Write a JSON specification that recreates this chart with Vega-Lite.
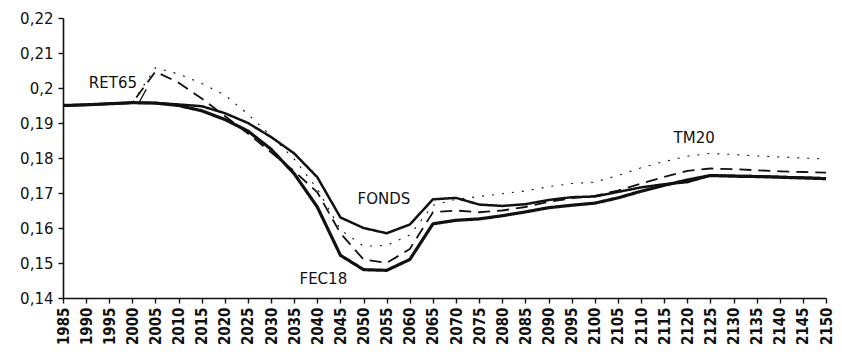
{
  "$schema": "https://vega.github.io/schema/vega-lite/v6.json",
  "autosize": "none",
  "width": 763,
  "height": 280,
  "padding": {"left": 63, "top": 18, "right": 16, "bottom": 58},
  "background": "white",
  "config": {
    "view": {"stroke": null},
    "font": "DejaVu Sans",
    "axis": {"grid": false, "domainColor": "#111", "tickColor": "#111", "labelColor": "#111", "domainWidth": 1.6, "tickWidth": 1.4, "labelOverlap": false, "labelFlush": false, "labelBound": false, "tickSize": 5}
  },
  "datasets": {
    "series": [
      {"year": 1985, "FEC18": 0.1950, "FONDS": 0.1950, "RET65": 0.1950, "TM20": 0.1950},
      {"year": 1990, "FEC18": 0.1952, "FONDS": 0.1952, "RET65": 0.1952, "TM20": 0.1952},
      {"year": 1995, "FEC18": 0.1955, "FONDS": 0.1955, "RET65": 0.1955, "TM20": 0.1955},
      {"year": 2000, "FEC18": 0.1958, "FONDS": 0.1958, "RET65": 0.1958, "TM20": 0.1958},
      {"year": 2005, "FEC18": 0.1957, "FONDS": 0.1957, "RET65": 0.2047, "TM20": 0.2058},
      {"year": 2010, "FEC18": 0.1950, "FONDS": 0.1953, "RET65": 0.2015, "TM20": 0.2040},
      {"year": 2015, "FEC18": 0.1935, "FONDS": 0.1948, "RET65": 0.1970, "TM20": 0.2013},
      {"year": 2020, "FEC18": 0.1910, "FONDS": 0.1928, "RET65": 0.1920, "TM20": 0.1980},
      {"year": 2025, "FEC18": 0.1877, "FONDS": 0.1900, "RET65": 0.1870, "TM20": 0.1925},
      {"year": 2030, "FEC18": 0.1825, "FONDS": 0.1860, "RET65": 0.1816, "TM20": 0.1863},
      {"year": 2035, "FEC18": 0.1755, "FONDS": 0.1813, "RET65": 0.1762, "TM20": 0.1797},
      {"year": 2040, "FEC18": 0.1660, "FONDS": 0.1745, "RET65": 0.1702, "TM20": 0.1712},
      {"year": 2045, "FEC18": 0.1522, "FONDS": 0.1630, "RET65": 0.1585, "TM20": 0.1595},
      {"year": 2050, "FEC18": 0.1481, "FONDS": 0.1600, "RET65": 0.1510, "TM20": 0.1548},
      {"year": 2055, "FEC18": 0.1479, "FONDS": 0.1585, "RET65": 0.1500, "TM20": 0.1550},
      {"year": 2060, "FEC18": 0.1510, "FONDS": 0.1610, "RET65": 0.1540, "TM20": 0.1580},
      {"year": 2065, "FEC18": 0.1612, "FONDS": 0.1682, "RET65": 0.1645, "TM20": 0.1665},
      {"year": 2070, "FEC18": 0.1622, "FONDS": 0.1686, "RET65": 0.1650, "TM20": 0.1682},
      {"year": 2075, "FEC18": 0.1626, "FONDS": 0.1667, "RET65": 0.1645, "TM20": 0.1690},
      {"year": 2080, "FEC18": 0.1635, "FONDS": 0.1663, "RET65": 0.1650, "TM20": 0.1698},
      {"year": 2085, "FEC18": 0.1646, "FONDS": 0.1668, "RET65": 0.1660, "TM20": 0.1706},
      {"year": 2090, "FEC18": 0.1658, "FONDS": 0.1680, "RET65": 0.1675, "TM20": 0.1718},
      {"year": 2095, "FEC18": 0.1665, "FONDS": 0.1688, "RET65": 0.1685, "TM20": 0.1727},
      {"year": 2100, "FEC18": 0.1671, "FONDS": 0.1690, "RET65": 0.1692, "TM20": 0.1731},
      {"year": 2105, "FEC18": 0.1686, "FONDS": 0.1703, "RET65": 0.1707, "TM20": 0.1750},
      {"year": 2110, "FEC18": 0.1705, "FONDS": 0.1716, "RET65": 0.1727, "TM20": 0.1772},
      {"year": 2115, "FEC18": 0.1722, "FONDS": 0.1725, "RET65": 0.1746, "TM20": 0.1790},
      {"year": 2120, "FEC18": 0.1737, "FONDS": 0.1731, "RET65": 0.1763, "TM20": 0.1805},
      {"year": 2125, "FEC18": 0.1750, "FONDS": 0.1750, "RET65": 0.1770, "TM20": 0.1813},
      {"year": 2130, "FEC18": 0.1748, "FONDS": 0.1749, "RET65": 0.1768, "TM20": 0.1810},
      {"year": 2135, "FEC18": 0.1747, "FONDS": 0.1748, "RET65": 0.1765, "TM20": 0.1806},
      {"year": 2140, "FEC18": 0.1745, "FONDS": 0.1746, "RET65": 0.1762, "TM20": 0.1803},
      {"year": 2145, "FEC18": 0.1743, "FONDS": 0.1744, "RET65": 0.1760, "TM20": 0.1800},
      {"year": 2150, "FEC18": 0.1741, "FONDS": 0.1742, "RET65": 0.1758, "TM20": 0.1797}
    ],
    "labels": [
      {"label": "RET65", "year": 1995.8, "value": 0.2013},
      {"label": "FONDS", "year": 2054.4, "value": 0.1684},
      {"label": "FEC18", "year": 2041.3, "value": 0.1454},
      {"label": "TM20", "year": 2121.5, "value": 0.1856}
    ],
    "leaders": [
      {"year": 2001.6, "value": 0.1962, "year2": 2003.0, "value2": 0.1996}
    ]
  },
  "encoding": {
    "x": {
      "field": "year", "type": "quantitative",
      "scale": {"domain": [1985, 2150], "nice": false, "zero": false},
      "axis": {
        "title": null,
        "values": [1985, 1990, 1995, 2000, 2005, 2010, 2015, 2020, 2025, 2030, 2035, 2040, 2045, 2050, 2055, 2060, 2065, 2070, 2075, 2080, 2085, 2090, 2095, 2100, 2105, 2110, 2115, 2120, 2125, 2130, 2135, 2140, 2145, 2150],
        "format": "d",
        "labelAngle": -90,
        "labelFontSize": 15,
        "labelFont": "DejaVu Sans Condensed",
        "labelFontWeight": "bold",
        "labelPadding": 4
      }
    },
    "y": {
      "field": "value", "type": "quantitative",
      "scale": {"domain": [0.14, 0.22], "nice": false, "zero": false},
      "axis": {
        "title": null,
        "values": [0.14, 0.15, 0.16, 0.17, 0.18, 0.19, 0.2, 0.21, 0.22],
        "labelExpr": "replace(format(datum.value, '.2~f'), '.', ',')",
        "labelFontSize": 15,
        "labelPadding": 5
      }
    }
  },
  "layer": [
    {
      "data": {"name": "series"},
      "transform": [{"fold": ["FEC18", "FONDS", "RET65", "TM20"], "as": ["scenario", "value"]}],
      "mark": {"type": "line", "color": "#111", "strokeJoin": "round", "strokeCap": "butt"},
      "encoding": {
        "detail": {"field": "scenario"},
        "strokeDash": {
          "field": "scenario", "type": "nominal",
          "scale": {"domain": ["FEC18", "FONDS", "RET65", "TM20"], "range": [[1, 0], [1, 0], [12, 7], [2, 8]]},
          "legend": null
        },
        "strokeWidth": {
          "field": "scenario", "type": "nominal",
          "scale": {"domain": ["FEC18", "FONDS", "RET65", "TM20"], "range": [3.2, 1.1, 1.4, 2.2]},
          "legend": null
        }
      }
    },
    {
      "data": {"name": "leaders"},
      "mark": {"type": "rule", "color": "#111", "strokeWidth": 1.3},
      "encoding": {
        "x2": {"field": "year2"},
        "y2": {"field": "value2"}
      }
    },
    {
      "data": {"name": "labels"},
      "mark": {"type": "text", "color": "#111", "fontSize": 15, "font": "DejaVu Sans", "align": "center", "baseline": "middle"},
      "encoding": {
        "text": {"field": "label"}
      }
    }
  ]
}
